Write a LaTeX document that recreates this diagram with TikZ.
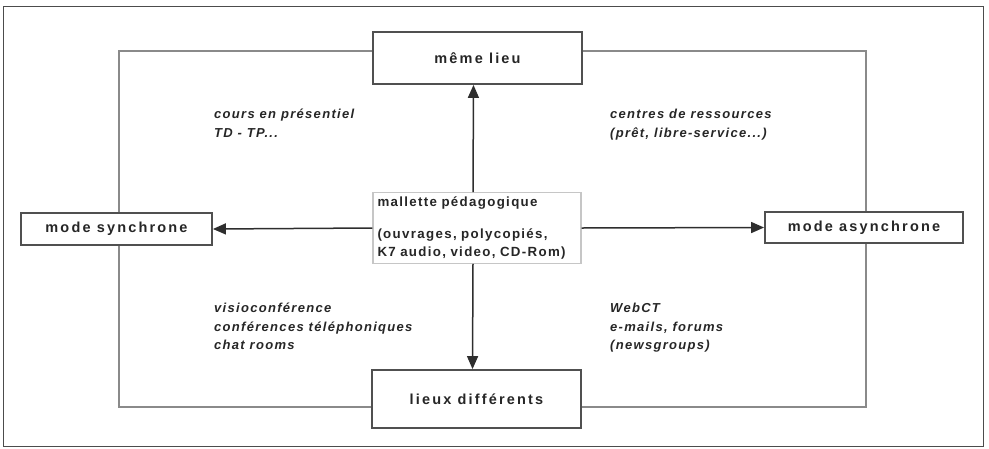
\documentclass[tikz,border=0pt]{standalone}
\usepackage{fontspec}
\setmainfont{Liberation Sans}
\newfontfamily\boxfamily{Liberation Sans}[LetterSpace=15]
\newfontfamily\txtfamily{Liberation Sans}[LetterSpace=10]
\usetikzlibrary{arrows.meta}
\definecolor{boxline}{HTML}{505050}
\definecolor{frameline}{HTML}{8A8A8A}
\definecolor{arrowline}{HTML}{2E2E2E}
\tikzset{
  labelbox/.style={draw=boxline, line width=1.8pt, fill=white, inner sep=0pt,
    font=\boxfamily\bfseries\fontsize{14.5}{17}\selectfont, text=black!85},
  centerbox/.style={draw=gray!45, line width=1.1pt, fill=white, inner sep=4pt,
    align=left, text width=199pt, minimum width=208pt, minimum height=68pt,
    font=\txtfamily\bfseries\fontsize{13.3}{18.5}\selectfont, text=black!85},
  note/.style={inner sep=0pt, align=left, anchor=north west,
    font=\txtfamily\bfseries\itshape\fontsize{13}{18.5}\selectfont, text=black!85},
  ring/.style={draw=frameline, line width=2.5pt},
  link/.style={draw=arrowline, line width=1.5pt, -{Triangle[length=13pt,width=11pt]}},
}
\begin{document}
\begin{tikzpicture}[x=1pt,y=-1pt]
\useasboundingbox (0,0) rectangle (989,448);
\node[draw=black!70, line width=1pt, minimum width=980pt, minimum height=440pt, inner sep=0pt] (frame) at (493,226) {};
% boxes
\node[labelbox, minimum width=209pt, minimum height=52pt] (meme) at (477.5,58) {même lieu};
\node[labelbox, minimum width=209pt, minimum height=58pt] (lieux) at (476.5,399) {lieux différents};
\node[labelbox, minimum width=191pt, minimum height=32pt] (sync) at (116.5,229) {mode synchrone};
\node[labelbox, minimum width=198pt, minimum height=31pt] (async) at (864,227.5) {mode asynchrone};
% ring
\coordinate (tl) at (119,51);
\coordinate (tr) at (866,51);
\coordinate (bl) at (119,407);
\coordinate (br) at (866,407);
\draw[ring] (meme.west |- tl) -- (tl) -- (sync.north -| tl);
\draw[ring] (sync.south -| bl) -- (bl) -- (lieux.west |- bl);
\draw[ring] (lieux.east |- br) -- (br) -- (async.south -| br);
\draw[ring] (async.north -| tr) -- (tr) -- (meme.east |- tr);
% redraw boxes on top
\node[labelbox, minimum width=209pt, minimum height=52pt] at (meme) {même lieu};
\node[labelbox, minimum width=209pt, minimum height=58pt] at (lieux) {lieux différents};
\node[labelbox, minimum width=191pt, minimum height=32pt] at (sync) {mode synchrone};
\node[labelbox, minimum width=198pt, minimum height=31pt] at (async) {mode asynchrone};
% center
\node[centerbox] (mall) at (477,228) {mallette pédagogique\\[13pt](ouvrages, polycopiés,\\K7 audio, video, CD-Rom)};
\draw[link] ([xshift=-4pt]mall.north) -- ([xshift=-4pt]meme.south);
\draw[link] ([xshift=-4pt]mall.south) -- ([xshift=-4pt]lieux.north);
\draw[link] (mall.west) -- (sync.east);
\draw[link] (mall.east) -- (async.west);
% notes
\node[note] (n1) at (214,109) {cours en présentiel\\TD - TP...};
\node[note] (n2) at (610,109) {centres de ressources\\(prêt, libre-service...)};
\node[note] (n3) at (214,303) {visioconférence\\conférences téléphoniques\\chat rooms};
\node[note] (n4) at (610,303) {WebCT\\e-mails, forums\\(newsgroups)};
\end{tikzpicture}
\end{document}
